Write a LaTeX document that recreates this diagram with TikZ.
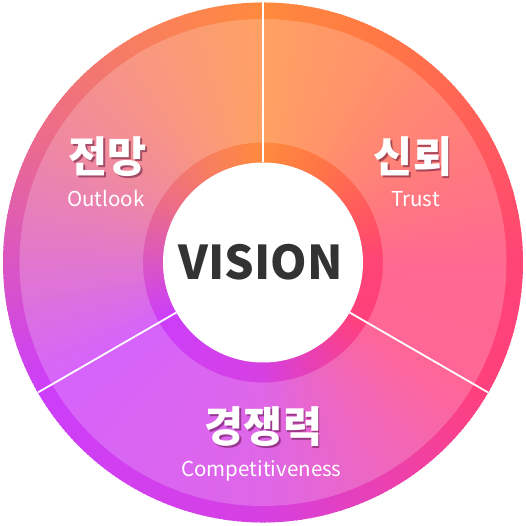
\documentclass[tikz,border=0pt]{standalone}
\usepackage{fontspec}
\newfontfamily\krfont{Noto Sans CJK KR}
\definecolor{c90}{RGB}{255,138,61}
\definecolor{c120}{RGB}{248,126,96}
\definecolor{c150}{RGB}{236,108,138}
\definecolor{c180}{RGB}{218,86,194}
\definecolor{c210}{RGB}{204,62,250}
\definecolor{c270}{RGB}{214,64,226}
\definecolor{c330}{RGB}{255,64,124}
\definecolor{c0}{RGB}{255,68,118}
\definecolor{c30}{RGB}{255,92,92}
\definecolor{c60}{RGB}{255,118,70}
\definecolor{visiontext}{RGB}{51,51,51}
\definecolor{shadowcol}{RGB}{70,0,40}
\tikzset{
  divider/.style={draw=white, line width=1.8pt},
  krlabel/.style={font=\krfont\bfseries\fontsize{42.5}{46}\selectfont, text=white, inner sep=0pt},
  krshadow/.style={font=\krfont\bfseries\fontsize{42.5}{46}\selectfont, text=shadowcol, text opacity=0.45, inner sep=0pt},
  enlabel/.style={font=\krfont\fontsize{20.5}{24}\selectfont, text=white, inner sep=0pt, anchor=base},
}
\begin{document}
\begin{tikzpicture}[x=1pt,y=1pt]
\useasboundingbox (-263,-263.5) rectangle (263,262.5);
% conic gradient wheel
\foreach \sa/\ea/\ca/\cb in {-30/0/c330/c0, 0/30/c0/c30, 30/60/c30/c60, 60/90/c60/c90, 90/120/c90/c120, 120/150/c120/c150, 150/180/c150/c180, 180/210/c180/c210, 210/270/c210/c270, 270/330/c270/c330}{
  \pgfmathtruncatemacro{\nn}{\ea-\sa}
  \foreach \k in {0,...,\nn}{
    \pgfmathsetmacro{\ang}{\sa+\k}
    \pgfmathtruncatemacro{\pp}{round(100*\k/\nn)}
    \colorlet{wc}{\cb!\pp!\ca}
    \fill[wc] (0,0) -- (\ang-0.7:260) arc[start angle=\ang-0.7, end angle=\ang+0.7, radius=260] -- cycle;
  }
}
% lighter band
\fill[white, fill opacity=0.2, even odd rule] (0,0) circle[radius=243.5] (0,0) circle[radius=120];
% white core
\node[circle, fill=white, minimum size=200pt, inner sep=0pt] (core) at (0,0) {};
% dividers
\coordinate (i1) at (90:100);  \coordinate (o1) at (90:260);
\coordinate (i2) at (210:100); \coordinate (o2) at (210:260);
\coordinate (i3) at (330:100); \coordinate (o3) at (330:260);
\draw[divider] (i1) -- (o1);
\draw[divider] (i2) -- (o2);
\draw[divider] (i3) -- (o3);
% center text
\node[font=\krfont\bfseries\fontsize{46.5}{50}\selectfont, text=visiontext, inner sep=0pt] (vision) at (-2.5,0) {VISION};
% sector labels
\node[krshadow] (s1) at (-153.7,103.7) {전망};
\node[krlabel] (k1) at (-155.5,105.5) {전망};
\node[enlabel] (e1) at (-157,55.5) {Outlook};
\node[krshadow] (s2) at (151.8,103.7) {신뢰};
\node[krlabel] (k2) at (150,105.5) {신뢰};
\node[enlabel] (e2) at (152.5,55.5) {Trust};
\node[krshadow] (s3) at (2.3,-166.3) {경쟁력};
\node[krlabel] (k3) at (0.5,-164.5) {경쟁력};
\node[enlabel] (e3) at (-1.5,-213.5) {Competitiveness};
\end{tikzpicture}
\end{document}
